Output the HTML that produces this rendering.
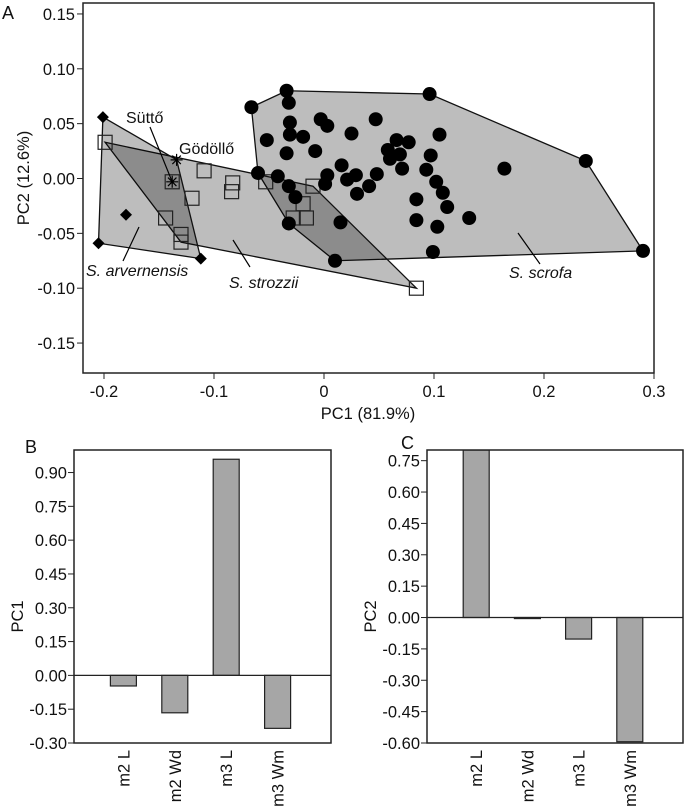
<!DOCTYPE html>
<html><head><meta charset="utf-8"><style>
body{margin:0;background:#fff;}
svg{display:block;font-family:"Liberation Sans",sans-serif;}
text{fill:#111;}
</style></head><body>
<svg id="fig" width="685" height="806" viewBox="0 0 685 806">
<text x="2" y="19" font-size="18">A</text>
<g id="pA"></g>
<g id="pB"></g>
<g id="pC"></g>
</svg>
<script>
// ---- Panel A data ----
const scrofaX=[-0.066,-0.034,-0.032,0.096,0.238,0.290,-0.031,-0.003,0.003,0.047,0.025,-0.031,-0.019,-0.052,-0.034,-0.008,0.105,0.066,0.077,0.058,0.069,0.060,0.071,0.097,0.093,0.016,0.048,0.029,0.021,0.003,0.001,0.041,0.030,0.102,0.108,0.112,0.084,0.084,0.103,0.132,0.164,0.099,0.015,0.010,-0.032,-0.026,-0.032,-0.042,-0.060];
const scrofaY=[0.065,0.080,0.069,0.077,0.016,-0.066,0.051,0.054,0.048,0.054,0.041,0.040,0.038,0.035,0.023,0.025,0.040,0.035,0.033,0.026,0.022,0.018,0.009,0.021,0.008,0.012,0.004,0.003,-0.001,0.003,-0.005,-0.007,-0.014,-0.003,-0.013,-0.026,-0.019,-0.038,-0.044,-0.036,0.009,-0.067,-0.040,-0.075,-0.041,-0.017,-0.007,0.002,0.005];
const scrofaHull=[0,1,3,4,5,43,44,48];
const strozziiX=[-0.199,-0.138,-0.109,-0.120,-0.144,-0.130,-0.130,-0.083,-0.084,-0.053,-0.010,-0.019,-0.016,-0.028,0.084];
const strozziiY=[0.033,-0.003,0.007,-0.018,-0.036,-0.051,-0.058,-0.004,-0.012,-0.003,-0.007,-0.023,-0.036,-0.036,-0.100];
const strozziiHull=[0,10,14,6];
const arvX=[-0.201,-0.205,-0.112,-0.180];
const arvY=[0.056,-0.059,-0.073,-0.033];
const starX=[-0.134,-0.138];
const starY=[0.017,-0.003];
const starNames=["Gödöllő","Süttő"];
const xTicksA=[-0.2,-0.1,0,0.1,0.2,0.3];
const xTickLabelsA=["-0.2","-0.1","0","0.1","0.2","0.3"];
const yTicksA=[0.15,0.10,0.05,0.00,-0.05,-0.10,-0.15];
// ---- Panel B/C data ----
const categories=["m2 L","m2 Wd","m3 L","m3 Wm"];
const pc1Values=[-0.047,-0.166,0.959,-0.235];
const pc2Values=[0.80,-0.005,-0.103,-0.594];
const yTicksB=[0.90,0.75,0.60,0.45,0.30,0.15,0.00,-0.15,-0.30];
const yTicksC=[0.75,0.60,0.45,0.30,0.15,0.00,-0.15,-0.30,-0.45,-0.60];

const FS=16.5;
const NS="http://www.w3.org/2000/svg";
function mk(parent,tag,attrs,name){const e=document.createElementNS(NS,tag);for(const k in attrs)e.setAttribute(k,attrs[k]);


parent.appendChild(e);return e;}
function txt(parent,x,y,s,size,name,anchor,extra){const t=mk(parent,'text',Object.assign({x:x,y:y,'font-size':size,'text-anchor':anchor||'start'},extra||{}),name);t.textContent=s;return t;}

// Panel A
const A=document.getElementById('pA');
const ax=v=>104+(v+0.2)*1100, ay=v=>178.5-v*1097;
const pts=(X,Y,idx)=>idx.map(i=>ax(X[i])+','+ay(Y[i])).join(' ');
mk(A,'rect',{x:83,y:3,width:571,height:370,fill:'#fff',stroke:'#222','stroke-width':1.5},'plot-frame');
const arvHullPts=[[arvX[0],arvY[0]],[starX[0],starY[0]],[arvX[2],arvY[2]],[arvX[1],arvY[1]]].map(p=>ax(p[0])+','+ay(p[1])).join(' ');
mk(A,'polygon',{points:pts(scrofaX,scrofaY,scrofaHull),fill:'#000','fill-opacity':0.26,stroke:'#111','stroke-width':1.3},'scrofa-hull');
mk(A,'polygon',{points:pts(strozziiX,strozziiY,strozziiHull),fill:'#000','fill-opacity':0.26,stroke:'#111','stroke-width':1.3},'strozzii-hull');
mk(A,'polygon',{points:arvHullPts,fill:'#000','fill-opacity':0.26,stroke:'#111','stroke-width':1.3},'arvernensis-hull');
for(let i=0;i<strozziiX.length;i++){
  mk(A,'rect',{x:ax(strozziiX[i])-7,y:ay(strozziiY[i])-7,width:14,height:14,fill:'none',stroke:'#222','stroke-width':1.2},'strozzii-point');
}
for(let i=0;i<scrofaX.length;i++){
  mk(A,'circle',{cx:ax(scrofaX[i]),cy:ay(scrofaY[i]),r:7,fill:'#000'},'scrofa-point');
}
for(let i=0;i<arvX.length;i++){
  const x=ax(arvX[i]),y=ay(arvY[i]);
  mk(A,'polygon',{points:`${x},${y-6} ${x+6},${y} ${x},${y+6} ${x-6},${y}`,fill:'#000'},'arvernensis-point');
}
for(let i=0;i<starX.length;i++){
  const x=ax(starX[i]),y=ay(starY[i]);let d='';
  for(let k=0;k<4;k++){const a=k*Math.PI/4;d+=`M${x-6*Math.cos(a)},${y-6*Math.sin(a)}L${x+6*Math.cos(a)},${y+6*Math.sin(a)}`;}
  mk(A,'path',{d:d,stroke:'#000','stroke-width':1.2},'star-point-'+i);
}
// labels
txt(A,126,123,starNames[1],16,'sutto-label');
mk(A,'line',{x1:150,y1:127,x2:ax(starX[1]),y2:ay(starY[1]),stroke:'#000','stroke-width':1.2},'sutto-leader');
txt(A,179,154,starNames[0],16,'godollo-label');
const it={'font-style':'italic'};
txt(A,86,276,'S. arvernensis',16,'arvernensis-label','start',it);
mk(A,'line',{x1:139,y1:227,x2:123,y2:261,stroke:'#000','stroke-width':1.2},'arvernensis-leader');
txt(A,229,288,'S. strozzii',16,'strozzii-label','start',it);
mk(A,'line',{x1:233,y1:240,x2:250,y2:267,stroke:'#000','stroke-width':1.2},'strozzii-leader');
txt(A,509,278,'S. scrofa',16,'scrofa-label','start',it);
mk(A,'line',{x1:518,y1:233,x2:540,y2:264,stroke:'#000','stroke-width':1.2},'scrofa-leader');
// axes
xTicksA.forEach((v,i)=>{mk(A,'line',{x1:ax(v),x2:ax(v),y1:373,y2:379,stroke:'#222'},'x-tick');txt(A,ax(v),397,xTickLabelsA[i],FS,'x-tick-label','middle');});
yTicksA.forEach(v=>{mk(A,'line',{x1:77,x2:83,y1:ay(v),y2:ay(v),stroke:'#222'},'y-tick');txt(A,75,ay(v)+6,v.toFixed(2),FS,'y-tick-label','end');});
txt(A,368,419,'PC1 (81.9%)',FS,'x-axis-title','middle');
txt(A,0,0,'PC2 (12.6%)',FS,'y-axis-title','middle',{transform:'translate(29,178) rotate(-90)'});

// Bar charts
function bars(g,vals,ticks,L,R,T,B,yMin,yMax,title,letter,lx,ly){
  const yy=v=>B-(v-yMin)/(yMax-yMin)*(B-T);
  const step=(R-L)/5;
  const clip='clip'+letter;
  const cp=mk(g,'clipPath',{id:clip},'clip');mk(cp,'rect',{x:L,y:T,width:R-L,height:B-T},'clip-rect');
  mk(g,'rect',{x:L,y:T,width:R-L,height:B-T,fill:'#fff',stroke:'#222','stroke-width':1.5},'plot-frame');
  const bg=mk(g,'g',{'clip-path':`url(#${clip})`},'bars');
  vals.forEach((v,i)=>{const cx=L+step*(i+1)-2;const y0=yy(0),y1=yy(v);
    mk(bg,'rect',{x:cx-13,y:Math.min(y0,y1),width:26,height:Math.max(Math.abs(y1-y0),1),fill:'#a6a6a6',stroke:'#222','stroke-width':1.2},'bar-'+categories[i].replace(' ','-').toLowerCase());
    txt(g,0,0,categories[i],FS,'category-label','end',{transform:`translate(${cx+6},${B+7}) rotate(-90)`});
  });
  mk(g,'line',{x1:L,x2:R,y1:yy(0),y2:yy(0),stroke:'#222','stroke-width':1.3},'zero-line');
  ticks.forEach(v=>{mk(g,'line',{x1:L-6,x2:L,y1:yy(v),y2:yy(v),stroke:'#222'},'y-tick');txt(g,L-7,yy(v)+6,v.toFixed(2),FS,'y-tick-label','end');});
  txt(g,0,0,title,FS,'y-axis-title','middle',{transform:`translate(${L-51},${(T+B)/2+20}) rotate(-90)`});
  txt(g,lx,ly,letter,18,'panel-label');
}
bars(document.getElementById('pB'),pc1Values,yTicksB,74,331,450,743,-0.30,1.0,'PC1','B',25,453);
bars(document.getElementById('pC'),pc2Values,yTicksC,427,683,450,743,-0.60,0.801,'PC2','C',401,449);
</script>
</body></html>
